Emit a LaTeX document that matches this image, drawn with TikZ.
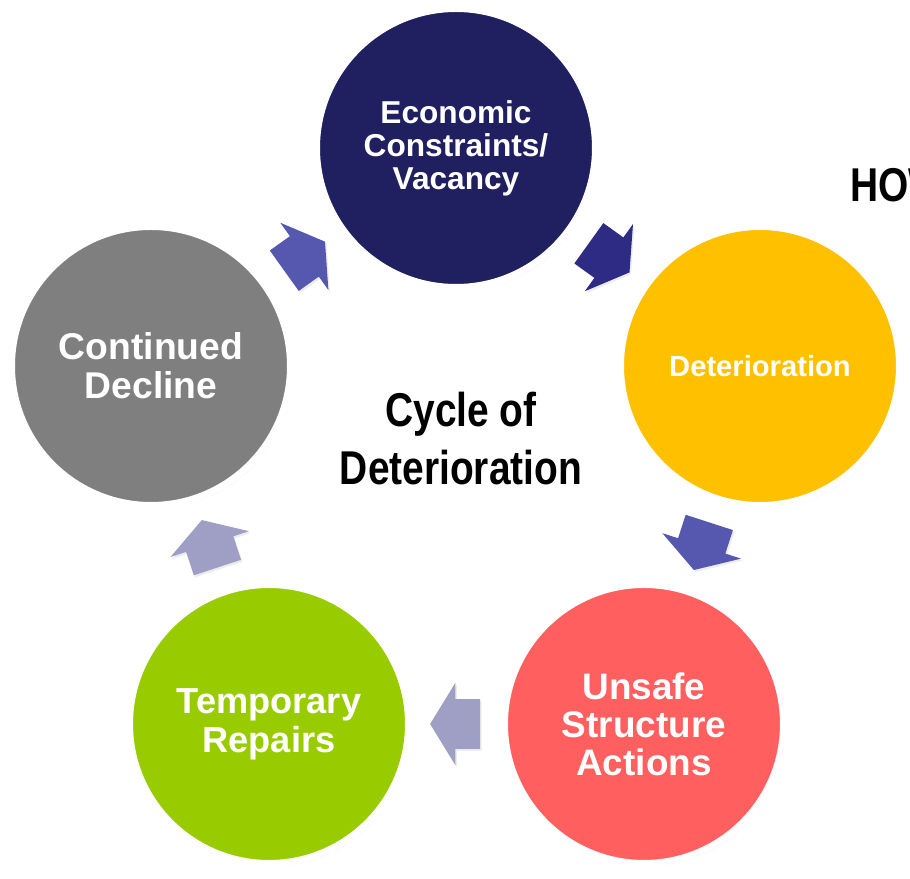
\documentclass[tikz,border=0pt]{standalone}
\usepackage{tkz-euclide}
\usepackage{fontspec}
\setmainfont{Liberation Sans}
\newfontfamily\narrowfont{Liberation Sans}[FakeStretch=0.82]
\usetikzlibrary{shapes.arrows,shadows}

\definecolor{navy}{HTML}{201F60}
\definecolor{amber}{HTML}{FFC000}
\definecolor{coral}{HTML}{FF5F5F}
\definecolor{lime}{HTML}{99CC00}
\definecolor{slate}{HTML}{7F7F7F}
\definecolor{arrowdark}{HTML}{2E2B85}
\definecolor{arrowmid}{HTML}{5657AE}
\definecolor{arrowlight}{HTML}{9F9FC5}

\newcommand{\shaftbox}{\rule{0pt}{0.98cm}}

\tikzset{
  stage/.style={circle, draw=white, line width=0.14cm, minimum size=5.58cm,
    inner sep=0pt, align=center, text=white,
    drop shadow={shadow xshift=0.04cm, shadow yshift=-0.06cm, opacity=0.18}},
  flow/.style={single arrow, draw=none, fill=#1, inner sep=0pt,
    minimum height=1cm, single arrow head extend=0.33cm,
    single arrow tip angle=117, pos=0.43, sloped, allow upside down,
    drop shadow={shadow xshift=0.03cm, shadow yshift=-0.04cm, opacity=0.15}}
}

\begin{document}
\begin{tikzpicture}
    % Definitions:
    \tkzDefPoint(9.12,14.62){a}
    \tkzDefPoint(15.2,10.26){b}
    \tkzDefPoint(12.88,3.10){c}
    \tkzDefPoint(5.38,3.10){d}
    \tkzDefPoint(3.02,10.26){e}
    \tkzDefPoint(9.22,8.8){o}
    \clip (0,0) rectangle (18.2,17.58);
    % Drawing:
    \node[stage, fill=navy, font=\bfseries\fontsize{18}{18.8}\selectfont] (A) at (a) {Economic\\Constraints/\\Vacancy};
    \node[stage, fill=amber, font=\bfseries\fontsize{16.6}{19}\selectfont] (B) at (b) {Deterioration};
    \node[stage, fill=coral, font=\bfseries\fontsize{21}{21.6}\selectfont] (C) at (c) {Unsafe\\Structure\\Actions};
    \node[stage, fill=lime, font=\bfseries\fontsize{20.6}{22.2}\selectfont] (D) at (d) {Temporary\\Repairs};
    \node[stage, fill=slate, font=\bfseries\fontsize{21.2}{22.2}\selectfont] (E) at (e) {Continued\\Decline};
    \path (A) -- (B) node[flow=arrowdark] (ab) {\shaftbox};
    \path (B) -- (C) node[flow=arrowmid] (bc) {\shaftbox};
    \path (C) -- (D) node[flow=arrowlight] (cd) {\shaftbox};
    \path (D) -- (E) node[flow=arrowlight] (de) {\shaftbox};
    \path (E) -- (A) node[flow=arrowmid] (ea) {\shaftbox};
    % Labels:
    \node[align=center, font=\narrowfont\bfseries\fontsize{27}{33}\selectfont] (title) at (o) {Cycle of\\Deterioration};
    \node[anchor=base west, inner sep=0pt, font=\narrowfont\bfseries\fontsize{27}{33}\selectfont] (how) at (17.0,13.54) {HOW};
\end{tikzpicture}
\end{document}
